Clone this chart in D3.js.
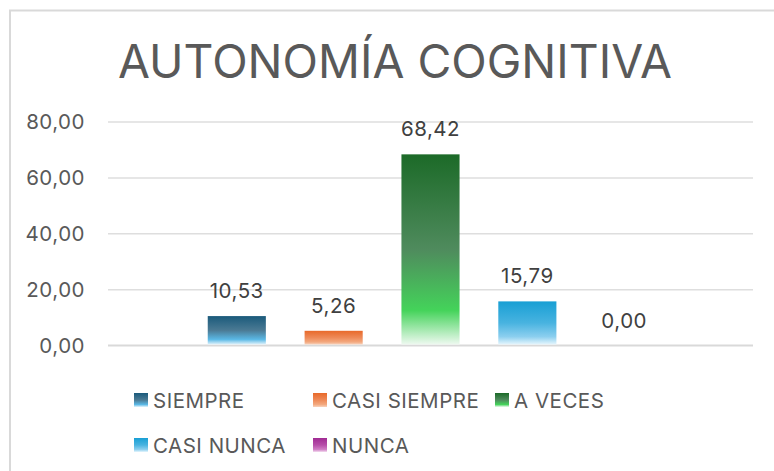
<!DOCTYPE html>
<html>
<head>
<meta charset="utf-8">
<script src="https://cdn.jsdelivr.net/npm/d3@7"></script>
<style>
  html, body { margin: 0; padding: 0; background: #fff; }
  text { font-family: Inter, "Open Sans", sans-serif; }
</style>
</head>
<body>
<svg id="chart" width="774" height="471"></svg>
<script>
const title = 'AUTONOMÍA COGNITIVA';
const categories = ['SIEMPRE', 'CASI SIEMPRE', 'A VECES', 'CASI NUNCA', 'NUNCA'];
const values = [10.53, 5.26, 68.42, 15.79, 0.00];
const yTicks = [0, 20, 40, 60, 80];

// gradient stops per series: top, middle, bright, bottom
const gradients = [
  ['#1a5a7b', '#4b7a94', '#5ab8e5', '#e3f4fc'],
  ['#e8692a', '#ee8a58', '#f3a97f', '#f8d3bd'],
  ['#1c6a28', '#4f8b5d', '#44d35a', '#eef9f0'],
  ['#189fd4', '#48b3e0', '#8ccfef', '#e6f6fd'],
  ['#a02b93', '#b64ea9', '#d07fc6', '#f3dcef']
];

const svg = d3.select('#chart');
const fmt = v => d3.format('.2f')(v).replace('.', ',');
const fs = 20.5, ls = '0.5px';

const defs = svg.append('defs');
gradients.forEach((g, i) => {
  const lg = defs.append('linearGradient')
    .attr('id', 'grad' + i)
    .attr('x1', 0).attr('y1', 0).attr('x2', 0).attr('y2', 1);
  [0, 0.5, 0.82, 1].forEach((o, j) => {
    lg.append('stop').attr('offset', o).attr('stop-color', g[j]);
  });
});

// frame
svg.append('path')
  .attr('d', 'M10,471 L10,10.5 L774,10.5')
  .attr('fill', 'none')
  .attr('stroke', '#d9d9d9')
  .attr('stroke-width', 2);

svg.append('text')
  .attr('x', 395)
  .attr('y', 78)
  .attr('text-anchor', 'middle')
  .attr('font-size', 47)
  .attr('fill', '#595959')
  .attr('textLength', 554)
  .attr('lengthAdjust', 'spacingAndGlyphs')
  .text(title);

const left = 108, right = 753;
const y = d3.scaleLinear().domain([0, 80]).range([345.5, 122]);
const x = d3.scaleBand().domain(categories).range([169, 692]).padding(0.4);

// gridlines
svg.append('g')
  .selectAll('line')
  .data(yTicks)
  .join('line')
    .attr('x1', left).attr('x2', right)
    .attr('y1', d => y(d)).attr('y2', d => y(d))
    .attr('stroke', d => d === 0 ? '#d9d9d9' : '#dedede')
    .attr('stroke-width', d => d === 0 ? 2 : 1.5);

// y axis labels
const yAxis = svg.append('g')
  .attr('transform', `translate(${left},0)`)
  .call(d3.axisLeft(y).tickValues(yTicks).tickFormat(fmt).tickSize(0).tickPadding(23));
yAxis.select('.domain').remove();
yAxis.selectAll('text')
  .attr('font-size', fs)
  .attr('letter-spacing', ls)
  .attr('fill', '#595959')
  .attr('font-family', 'Inter, "Open Sans", sans-serif');

// bars
svg.append('g')
  .selectAll('rect')
  .data(values)
  .join('rect')
    .attr('x', (d, i) => x(categories[i]))
    .attr('y', d => y(d))
    .attr('width', x.bandwidth())
    .attr('height', d => y(0) - y(d) - 1)
    .attr('fill', (d, i) => `url(#grad${i})`);

// data labels
svg.append('g')
  .selectAll('text')
  .data(values)
  .join('text')
    .attr('x', (d, i) => x(categories[i]) + x.bandwidth() / 2)
    .attr('y', d => y(d) - 18)
    .attr('text-anchor', 'middle')
    .attr('font-size', fs)
    .attr('letter-spacing', ls)
    .attr('fill', '#404040')
    .text(fmt);

// legend
const legendPos = [[134, 400], [313, 400], [495, 400], [134, 445], [313, 445]];
const legend = svg.append('g')
  .selectAll('g')
  .data(categories)
  .join('g')
    .attr('transform', (d, i) => `translate(${legendPos[i][0]},${legendPos[i][1]})`);

legend.append('rect')
  .attr('x', 0).attr('y', -7)
  .attr('width', 14).attr('height', 14)
  .attr('fill', (d, i) => `url(#grad${i})`);

legend.append('text')
  .attr('x', 19)
  .attr('y', 7.5)
  .attr('font-size', fs)
  .attr('letter-spacing', ls)
  .attr('fill', '#595959')
  .text(d => d);
</script>
</body>
</html>
